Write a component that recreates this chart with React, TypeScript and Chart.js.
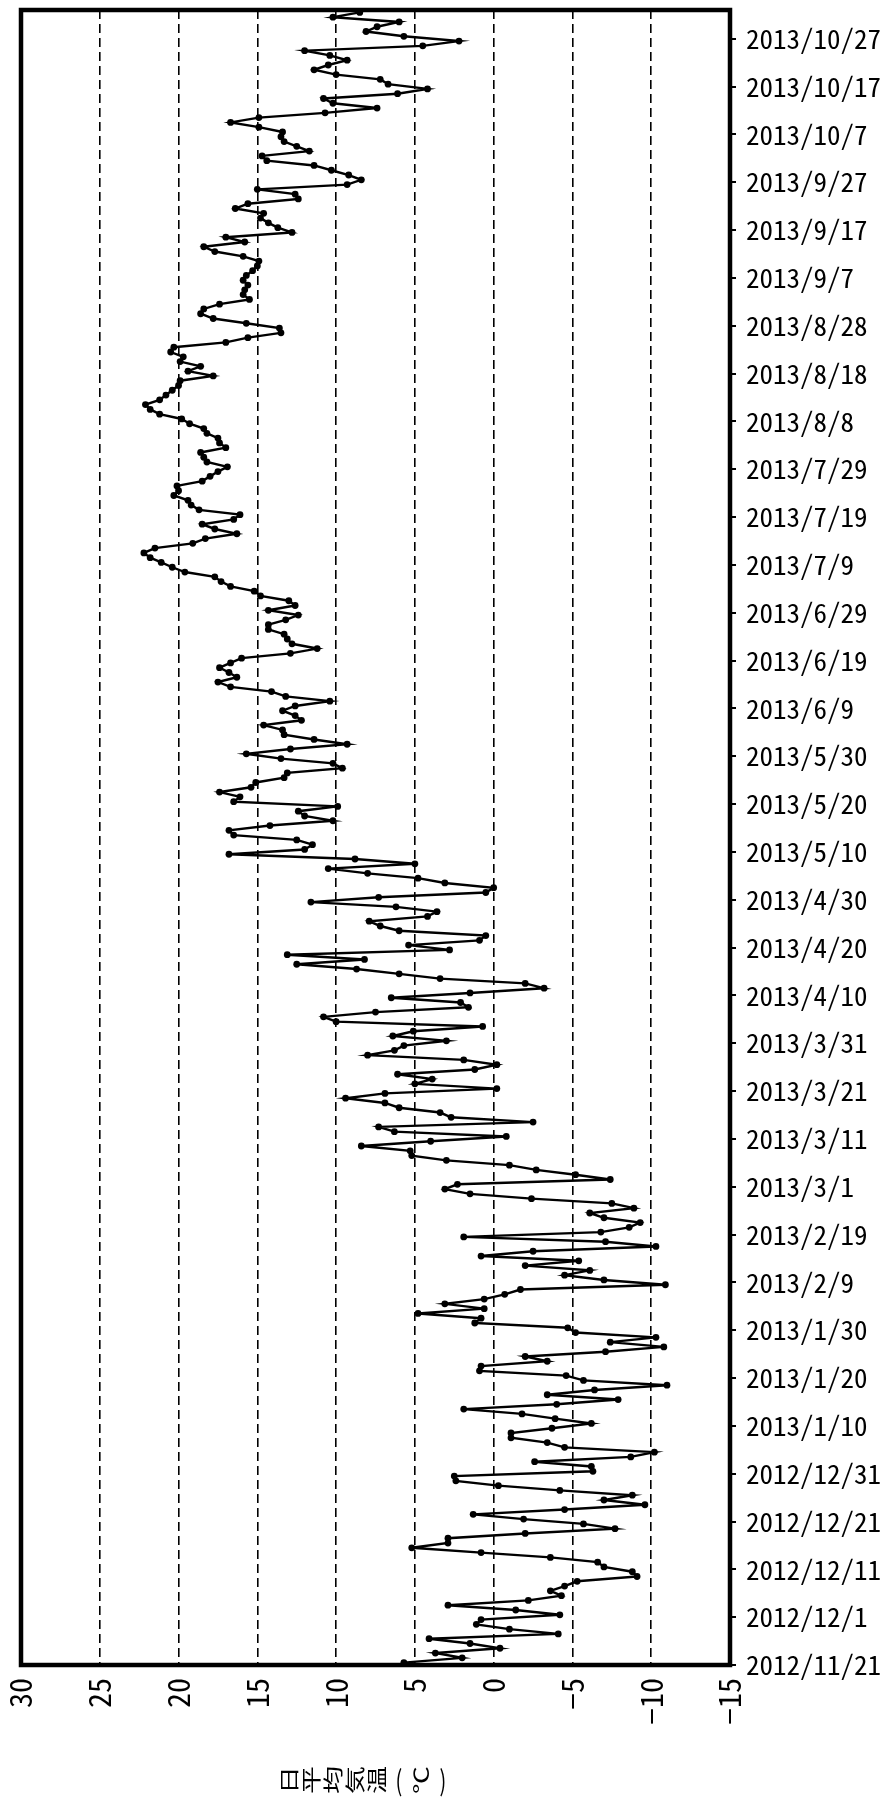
import React, { useEffect, useRef } from "react";
import { Chart, registerables } from "chart.js";

Chart.register(...registerables);

// Tick labels along the date axis, one every 10 days starting 2012/11/21
const dateTicks = [
  "2012/11/21", "2012/12/1", "2012/12/11", "2012/12/21", "2012/12/31",
  "2013/1/10", "2013/1/20", "2013/1/30", "2013/2/9", "2013/2/19",
  "2013/3/1", "2013/3/11", "2013/3/21", "2013/3/31", "2013/4/10",
  "2013/4/20", "2013/4/30", "2013/5/10", "2013/5/20", "2013/5/30",
  "2013/6/9", "2013/6/19", "2013/6/29", "2013/7/9", "2013/7/19",
  "2013/7/29", "2013/8/8", "2013/8/18", "2013/8/28", "2013/9/7",
  "2013/9/17", "2013/9/27", "2013/10/7", "2013/10/17", "2013/10/27",
];

// Temperature axis ticks (°C)
const tempTicks = [30, 25, 20, 15, 10, 5, 0, -5, -10, -15];

// Daily mean air temperature (°C), one value per day from 2012/11/21 to 2013/11/1
const dailyMeanTemp = [
  // 2012/11/21 -
  5.7, 2.0, 3.7, -0.4, 1.5, 4.1, -4.1, -1.0, 1.1, 0.8,
  // 2012/12/1 -
  -4.2, -1.4, 2.9, -2.2, -4.3, -3.6, -4.5, -5.3, -9.1, -8.8,
  // 2012/12/11 -
  -7.0, -6.6, -3.6, 0.8, 5.2, 2.9, 2.9, -2.0, -7.7, -5.7,
  // 2012/12/21 -
  -1.9, 1.3, -4.5, -9.6, -7.0, -8.8, -4.2, -0.3, 2.4, 2.5,
  // 2012/12/31 -
  -6.3, -6.2, -2.6, -8.7, -10.2, -4.5, -3.4, -1.1, -1.1, -3.7,
  // 2013/1/10 -
  -6.2, -3.9, -1.8, 1.9, -4.0, -7.9, -3.4, -6.4, -11.0, -5.7,
  // 2013/1/20 -
  -4.6, 0.9, 0.8, -3.4, -2.0, -7.1, -10.8, -7.4, -10.3, -5.2,
  // 2013/1/30 -
  -4.7, 1.2, 0.8, 4.8, 0.6, 3.1, 0.6, -0.7, -1.7, -10.9,
  // 2013/2/9 -
  -7.0, -4.5, -6.1, -2.0, -5.4, 0.8, -2.5, -10.3, -7.1, 1.9,
  // 2013/2/19 -
  -6.8, -8.6, -9.3, -7.0, -6.1, -8.9, -7.5, -2.4, 1.5, 3.1,
  // 2013/3/1 -
  2.3, -7.4, -5.2, -2.7, -1.0, 3.0, 5.2, 5.3, 8.4, 4.0,
  // 2013/3/11 -
  -0.8, 6.3, 7.3, -2.5, 2.7, 3.4, 6.0, 6.9, 9.4, 6.9,
  // 2013/3/21 -
  -0.2, 5.0, 3.9, 6.1, 1.2, -0.2, 1.9, 8.0, 6.3, 5.7,
  // 2013/3/31 -
  3.0, 6.4, 5.1, 0.7, 10.0, 10.8, 7.5, 1.6, 2.1, 6.5,
  // 2013/4/10 -
  1.5, -3.2, -2.0, 3.4, 6.0, 8.7, 12.5, 8.2, 13.1, 2.8,
  // 2013/4/20 -
  5.4, 0.9, 0.5, 6.0, 7.2, 7.9, 4.2, 3.6, 6.2, 11.6,
  // 2013/4/30 -
  7.3, 0.5, 0.0, 3.1, 4.8, 8.0, 10.5, 5.0, 8.8, 16.8,
  // 2013/5/10 -
  12.0, 11.5, 12.5, 16.5, 16.8, 14.2, 10.2, 12.0, 12.4, 9.9,
  // 2013/5/20 -
  16.5, 16.1, 17.4, 15.4, 15.1, 13.3, 13.1, 9.6, 10.2, 13.5,
  // 2013/5/30 -
  15.7, 12.9, 9.3, 11.4, 13.3, 13.4, 14.6, 12.2, 12.6, 13.4,
  // 2013/6/9 -
  12.6, 10.4, 13.2, 14.1, 16.7, 17.5, 16.3, 16.8, 17.4, 16.7,
  // 2013/6/19 -
  16.0, 12.9, 11.2, 12.8, 13.1, 13.3, 14.3, 14.3, 13.2, 12.4,
  // 2013/6/29 -
  14.3, 12.6, 13.0, 14.8, 15.2, 16.7, 17.3, 17.7, 19.6, 20.4,
  // 2013/7/9 -
  21.1, 21.8, 22.2, 21.5, 19.1, 18.3, 16.3, 17.7, 18.5, 16.5,
  // 2013/7/19 -
  16.1, 18.7, 19.2, 19.4, 20.3, 20.0, 20.1, 18.5, 18.0, 17.5,
  // 2013/7/29 -
  16.9, 18.2, 18.4, 18.6, 17.0, 17.4, 17.5, 18.2, 18.4, 19.3,
  // 2013/8/8 -
  19.8, 21.2, 21.8, 22.1, 21.2, 20.8, 20.4, 20.0, 19.9, 17.8,
  // 2013/8/18 -
  19.4, 18.6, 19.9, 19.7, 20.5, 20.3, 17.0, 15.6, 13.5, 13.6,
  // 2013/8/28 -
  15.7, 17.8, 18.6, 18.4, 17.4, 15.5, 15.9, 15.8, 15.6, 15.9,
  // 2013/9/7 -
  15.7, 15.3, 15.0, 14.9, 15.9, 17.7, 18.4, 15.8, 17.0, 12.8,
  // 2013/9/17 -
  13.7, 14.3, 14.8, 14.6, 16.4, 15.6, 12.4, 12.6, 15.0, 9.3,
  // 2013/9/27 -
  8.4, 9.2, 10.3, 11.4, 14.4, 14.7, 11.7, 12.5, 13.3, 13.5,
  // 2013/10/7 -
  13.4, 14.9, 16.7, 14.9, 10.7, 7.4, 10.2, 10.8, 6.1, 4.2,
  // 2013/10/17 -
  6.7, 7.2, 10.0, 11.4, 10.5, 9.3, 10.4, 12.0, 4.5, 2.2,
  // 2013/10/27 -
  5.7, 8.1, 7.4, 6.0, 10.2, 8.5,
];

const axisTitle = "日平均気温（℃）";

const CANVAS_W = 886;
const CANVAS_H = 1805;
const TICK_FONT = '"Noto Sans Mono CJK JP", "DejaVu Sans Condensed", "DejaVu Sans", sans-serif';
const TITLE_FONT = '"Noto Sans CJK JP", sans-serif';

// Thick black frame around the plotting area
const framePlugin = {
  id: "plotFrame",
  afterDatasetsDraw(chart: any) {
    const { ctx, chartArea } = chart;
    const { left, top, right, bottom } = chartArea;
    ctx.save();
    ctx.strokeStyle = "#000";
    ctx.lineWidth = 4.5;
    ctx.strokeRect(left, top, right - left, bottom - top);
    ctx.restore();
  },
};

// Axis title set as stacked vertical text: each glyph turned a quarter turn,
// the bracket pair kept in its vertical-form orientation
const titlePlugin = {
  id: "stackedAxisTitle",
  afterDraw(chart: any) {
    const { ctx } = chart;
    const chars = Array.from(axisTitle);
    const size = 20;
    const pitch = 22;
    const stretch = 1.4;
    const cx = 366;
    const cy = 1780;
    const start = cx - (pitch * chars.length) / 2;
    ctx.save();
    ctx.fillStyle = "#000";
    ctx.font = `${size}px ${TITLE_FONT}`;
    ctx.textAlign = "center";
    ctx.textBaseline = "middle";
    chars.forEach((ch, i) => {
      const x = start + pitch * (i + 0.5);
      ctx.save();
      ctx.translate(x, cy);
      ctx.scale(1, stretch);
      if (ch === "（" || ch === "）") {
        ctx.fillText(ch === "（" ? "(" : ")", 0, 0);
      } else {
        ctx.rotate(-Math.PI / 2);
        ctx.fillText(ch, 0, 0);
      }
      ctx.restore();
    });
    ctx.restore();
  },
};

export default function App() {
  const canvasRef = useRef<HTMLCanvasElement>(null);

  useEffect(() => {
    document.body.style.margin = "0";
    const canvas = canvasRef.current;
    if (!canvas) return;

    const points = dailyMeanTemp.map((t, i) => ({ x: t, y: i }));

    const chart = new Chart(canvas, {
      type: "scatter",
      data: {
        datasets: [
          {
            data: points,
            showLine: true,
            borderColor: "#000",
            backgroundColor: "#000",
            borderWidth: 2.4,
            pointRadius: 3.4,
            pointBorderWidth: 0,
            pointBackgroundColor: "#000",
            tension: 0,
          },
        ],
      },
      options: {
        animation: false,
        responsive: false,
        devicePixelRatio: 1,
        layout: { padding: { left: 21, top: 10, right: 0, bottom: 0 } },
        plugins: {
          legend: { display: false },
          tooltip: { enabled: false },
        },
        scales: {
          x: {
            type: "linear",
            position: "bottom",
            reverse: true,
            min: -15,
            max: 30,
            afterBuildTicks: (scale: any) => {
              scale.ticks = tempTicks.map((v) => ({ value: v }));
            },
            afterFit: (scale: any) => {
              scale.height = 140;
              scale.paddingLeft = 0;
              scale.paddingRight = 0;
            },
            ticks: {
              autoSkip: false,
              minRotation: 90,
              maxRotation: 90,
              padding: 13,
              color: "#000",
              font: { family: TICK_FONT, size: 30 },
              callback: (v: any) => (v < 0 ? "−" + Math.abs(v) : String(v)),
            },
            grid: {
              color: "#000",
              lineWidth: 1.6,
              drawTicks: false,
            },
            border: { display: false, dash: [9, 5] },
          },
          y: {
            type: "linear",
            position: "right",
            min: -0.5,
            max: dailyMeanTemp.length - 0.5,
            afterBuildTicks: (scale: any) => {
              scale.ticks = dateTicks.map((_, k) => ({ value: k * 10 - 0.5 }));
            },
            afterFit: (scale: any) => {
              scale.width = CANVAS_W - 730;
              scale.paddingTop = 0;
              scale.paddingBottom = 0;
            },
            ticks: {
              autoSkip: false,
              padding: 10,
              color: "#000",
              font: { family: TICK_FONT, size: 27 },
              callback: (_v: any, idx: number) => dateTicks[idx],
            },
            grid: {
              drawOnChartArea: false,
              drawTicks: true,
              tickLength: 6,
              color: "#000",
              lineWidth: 2,
            },
            border: { display: false },
          },
        },
      },
      plugins: [framePlugin, titlePlugin],
    });

    return () => chart.destroy();
  }, []);

  return (
    <div style={{ width: CANVAS_W, height: CANVAS_H, background: "#fff" }}>
      <canvas ref={canvasRef} width={CANVAS_W} height={CANVAS_H} />
    </div>
  );
}
